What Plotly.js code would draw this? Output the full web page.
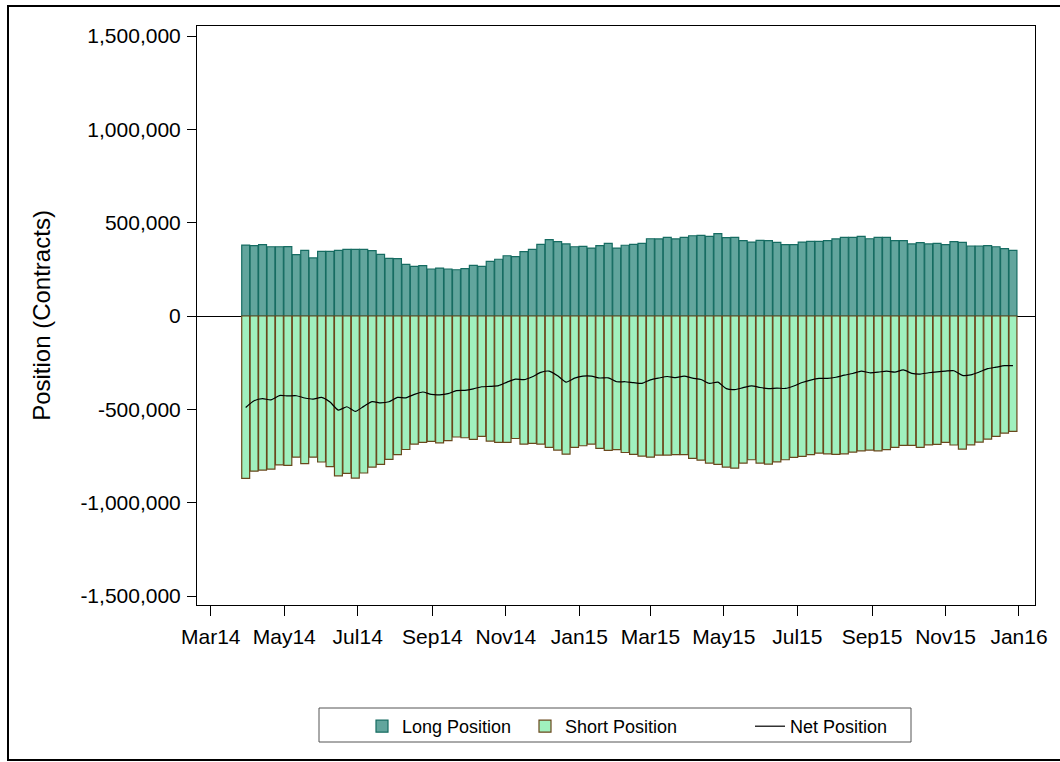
<!DOCTYPE html>
<html>
<head>
<meta charset="utf-8">
<script src="https://cdn.plot.ly/plotly-3.0.1.min.js"></script>
<style>
  html, body { margin: 0; padding: 0; background: #ffffff; }
  #chart { position: absolute; left: 0; top: 0; width: 1060px; height: 762px; }
  #frame { position: absolute; left: 7px; top: 5px; width: 1070px; height: 752px;
           border-left: 2px solid #000; border-top: 2px solid #000; border-bottom: 2px solid #000;
           pointer-events: none; }
</style>
</head>
<body>
<div id="chart"></div>
<div id="frame"></div>
<script>
// Weekly dates
var dates = [
  "2014-03-30","2014-04-06","2014-04-13","2014-04-20","2014-04-27",
  "2014-05-04","2014-05-11","2014-05-18","2014-05-25",
  "2014-06-01","2014-06-08","2014-06-15","2014-06-22","2014-06-29",
  "2014-07-06","2014-07-13","2014-07-20","2014-07-27",
  "2014-08-03","2014-08-10","2014-08-17","2014-08-24","2014-08-31",
  "2014-09-07","2014-09-14","2014-09-21","2014-09-28",
  "2014-10-05","2014-10-12","2014-10-19","2014-10-26",
  "2014-11-02","2014-11-09","2014-11-16","2014-11-23","2014-11-30",
  "2014-12-07","2014-12-14","2014-12-21","2014-12-28",
  "2015-01-04","2015-01-11","2015-01-18","2015-01-25",
  "2015-02-01","2015-02-08","2015-02-15","2015-02-22",
  "2015-03-01","2015-03-08","2015-03-15","2015-03-22","2015-03-29",
  "2015-04-05","2015-04-12","2015-04-19","2015-04-26",
  "2015-05-03","2015-05-10","2015-05-17","2015-05-24","2015-05-31",
  "2015-06-07","2015-06-14","2015-06-21","2015-06-28",
  "2015-07-05","2015-07-12","2015-07-19","2015-07-26",
  "2015-08-02","2015-08-09","2015-08-16","2015-08-23","2015-08-30",
  "2015-09-06","2015-09-13","2015-09-20","2015-09-27",
  "2015-10-04","2015-10-11","2015-10-18","2015-10-25",
  "2015-11-01","2015-11-08","2015-11-15","2015-11-22","2015-11-29",
  "2015-12-06","2015-12-13","2015-12-20","2015-12-27"
];

var longPosition = [
  380000,377000,382000,371000,371000,372000,329000,352000,311000,346000,
  346000,352000,357000,357000,357000,350000,330000,309000,307000,277000,
  266000,270000,252000,257000,252000,248000,254000,271000,266000,293000,
  304000,323000,318000,345000,357000,384000,409000,398000,386000,371000,
  373000,364000,377000,389000,364000,379000,384000,389000,414000,413000,
  421000,413000,421000,430000,432000,427000,441000,420000,421000,404000,
  396000,405000,404000,395000,382000,382000,396000,400000,400000,404000,
  413000,421000,421000,427000,414000,421000,421000,404000,404000,386000,
  393000,386000,389000,382000,398000,395000,375000,375000,377000,371000,
  361000,352000
];

var shortPosition = [
  -870000,-831000,-825000,-820000,-797000,-800000,-756000,-791000,-756000,-782000,
  -807000,-856000,-843000,-868000,-841000,-809000,-795000,-768000,-743000,-715000,
  -686000,-677000,-672000,-679000,-668000,-648000,-652000,-661000,-645000,-670000,
  -677000,-677000,-656000,-686000,-682000,-686000,-704000,-718000,-740000,-704000,
  -695000,-686000,-709000,-720000,-716000,-731000,-741000,-750000,-756000,-745000,
  -745000,-743000,-743000,-763000,-772000,-788000,-795000,-809000,-815000,-788000,
  -770000,-788000,-793000,-781000,-770000,-757000,-752000,-743000,-734000,-738000,
  -741000,-738000,-729000,-722000,-718000,-722000,-716000,-704000,-693000,-693000,
  -704000,-690000,-688000,-677000,-691000,-713000,-690000,-675000,-659000,-645000,
  -627000,-618000
];

var netPosition = [
  -490000,-454000,-443000,-449000,-426000,-428000,-427000,-439000,-445000,-436000,
  -461000,-504000,-486000,-511000,-484000,-459000,-465000,-459000,-436000,-438000,
  -420000,-407000,-420000,-422000,-416000,-400000,-398000,-390000,-379000,-377000,
  -373000,-354000,-338000,-341000,-325000,-302000,-295000,-320000,-354000,-333000,
  -322000,-322000,-332000,-331000,-352000,-352000,-357000,-361000,-342000,-332000,
  -324000,-330000,-322000,-333000,-340000,-361000,-354000,-389000,-394000,-384000,
  -374000,-383000,-389000,-386000,-388000,-375000,-356000,-343000,-334000,-334000,
  -328000,-317000,-308000,-295000,-304000,-301000,-295000,-300000,-289000,-307000,
  -311000,-304000,-299000,-295000,-293000,-318000,-315000,-300000,-282000,-274000,
  -266000,-266000
];

var yTickVals = [-1500000, -1000000, -500000, 0, 500000, 1000000, 1500000];
var yTickText = ["-1,500,000", "-1,000,000", "-500,000", "0", "500,000", "1,000,000", "1,500,000"];

var FONT = "Liberation Sans, Arial, sans-serif";

var traces = [
  {
    type: "bar", name: "Long Position", x: dates, y: longPosition,
    marker: { color: "rgb(98,165,157)", line: { color: "rgb(22,108,98)", width: 1.2 } },
    legendwidth: 118
  },
  {
    type: "bar", name: "Short Position", x: dates, y: shortPosition,
    marker: { color: "rgb(160,240,190)", line: { color: "rgb(105,72,28)", width: 1.2 } },
    legendwidth: 180
  },
  {
    type: "scatter", mode: "lines", name: "Net Position", x: dates, y: netPosition,
    line: { color: "#000000", width: 1.2, shape: "spline", smoothing: 0.6 },
    legendwidth: 105
  }
];

// plot area in px: x 197..1035, y 26..605
function px2paperX(px) { return (px - 197) / 838; }
function px2paperY(py) { return (605 - py) / 579; }

var layout = {
  width: 1060, height: 762,
  margin: { l: 197, r: 25, t: 26, b: 157, pad: 0 },
  paper_bgcolor: "#ffffff", plot_bgcolor: "#ffffff",
  font: { family: FONT, size: 21, color: "#000000" },
  barmode: "relative",
  bargap: 0.06,
  showlegend: true,
  legend: {
    orientation: "h", x: px2paperX(362), xanchor: "left", y: px2paperY(708), yanchor: "top",
    borderwidth: 0, bgcolor: "rgba(0,0,0,0)",
    font: { family: FONT, size: 18, color: "#000000" },
    traceorder: "normal"
  },
  shapes: [
    { type: "rect", xref: "paper", yref: "paper",
      x0: px2paperX(319), x1: px2paperX(911), y0: px2paperY(708), y1: px2paperY(742),
      line: { color: "#555555", width: 1 }, fillcolor: "rgba(0,0,0,0)", layer: "below" }
  ],
  xaxis: {
    type: "date",
    range: ["2014-02-17 14:00", "2016-01-14 07:00"],
    tick0: "2014-03-01", dtick: "M2", tickformat: "%b%y",
    ticks: "outside", ticklen: 10, tickcolor: "#000000", tickwidth: 1,
    showline: true, linecolor: "#000000", linewidth: 1, mirror: true,
    showgrid: false, zeroline: false,
    tickfont: { family: FONT, size: 21, color: "#000000" },
    ticklabelstandoff: 3
  },
  yaxis: {
    range: [-1548000, 1553600],
    tickmode: "array", tickvals: yTickVals, ticktext: yTickText,
    ticks: "outside", ticklen: 9, tickcolor: "#000000", tickwidth: 1,
    showline: true, linecolor: "#000000", linewidth: 1, mirror: true,
    showgrid: false,
    zeroline: true, zerolinecolor: "#000000", zerolinewidth: 1,
    tickfont: { family: FONT, size: 21, color: "#000000" },
    ticklabelstandoff: 2,
    title: { text: "Position (Contracts)", font: { family: FONT, size: 24, color: "#000000" }, standoff: 22 }
  }
};

Plotly.newPlot("chart", traces, layout, { displayModeBar: false, staticPlot: true });
</script>
</body>
</html>
